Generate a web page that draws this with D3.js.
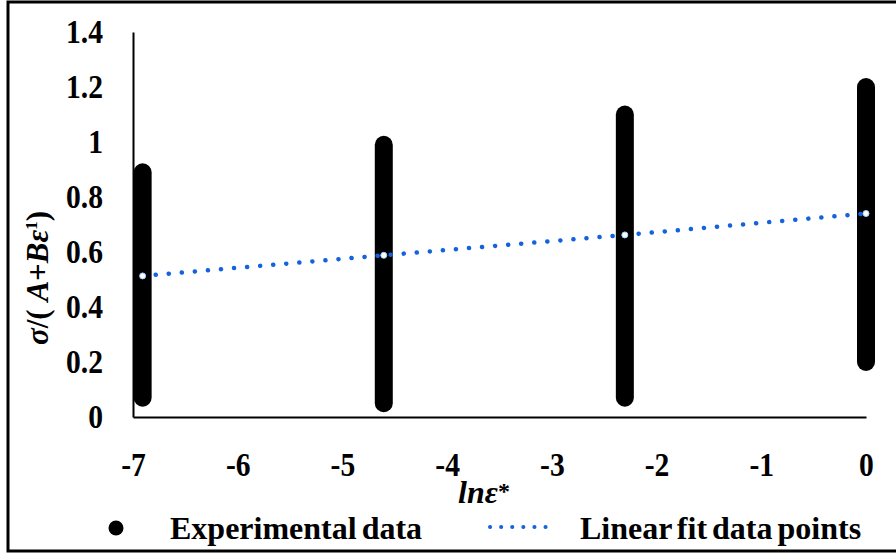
<!DOCTYPE html>
<html>
<head>
<meta charset="utf-8">
<script src="https://cdn.jsdelivr.net/npm/d3@7"></script>
<style>
  body { margin: 0; background: #fff; }
  text { font-family: "Liberation Serif", "Times New Roman", serif; font-weight: bold; fill: #000; }
</style>
</head>
<body>
<svg id="chart" width="896" height="554"></svg>
<script>
// ln of strain rate (0.001, 0.01, 0.1, 1)
var lnRates = [-6.908, -4.605, -2.303, 0];
// spread of the experimental points at each rate
var expMin = [0.07, 0.05, 0.07, 0.2];
var expMax = [0.89, 0.99, 1.1, 1.2];
// linear fit values at the same rates
var fitValues = [0.513, 0.588, 0.662, 0.74];

var xTicks = [-7, -6, -5, -4, -3, -2, -1, 0];
var yTicks = [0, 0.2, 0.4, 0.6, 0.8, 1, 1.2, 1.4];

var fitColor = "#1463dc";
var squeeze = 0.87; // tick labels look narrow/tall in the original

var svg = d3.select("#chart");

var x = d3.scaleLinear().domain([-7, 0]).range([133, 866]);
var y = d3.scaleLinear().domain([0, 1.4]).range([417, 32]);

// outer frame
svg.append("rect")
  .attr("x", 8).attr("y", 2)
  .attr("width", 900).attr("height", 549)
  .attr("fill", "none").attr("stroke", "#000").attr("stroke-width", 3);

// axes (no tick marks, just the lines and labels)
var yAxis = d3.axisLeft(y).tickValues(yTicks).tickSize(0).tickPadding(0)
  .tickFormat(function(d) { return d3.format("~g")(d); });
var xAxis = d3.axisBottom(x).tickValues(xTicks).tickSize(0).tickPadding(0)
  .tickFormat(function(d) { return String(d); });

var gy = svg.append("g").attr("transform", "translate(" + x(-7) + ",0)").call(yAxis);
var gx = svg.append("g").attr("transform", "translate(0," + y(0) + ")").call(xAxis);

[gx, gy].forEach(function(g) {
  g.select(".domain").attr("stroke", "#000").attr("stroke-width", 2);
  g.selectAll("text").style("font-size", "34px");
});
gx.selectAll("text")
  .attr("y", 0).attr("dy", "0.35em")
  .attr("transform", "translate(0,47) scale(" + squeeze + ",1)");
gy.selectAll("text")
  .attr("x", 0).attr("dx", 0)
  .attr("transform", "translate(-30,0) scale(" + squeeze + ",1)");

// experimental data: dense column of points at each rate
svg.append("g").selectAll("line")
  .data(lnRates)
  .enter()
  .append("line")
  .attr("x1", function(d) { return x(d); })
  .attr("x2", function(d) { return x(d); })
  .attr("y1", function(d, i) { return y(expMin[i]); })
  .attr("y2", function(d, i) { return y(expMax[i]); })
  .attr("stroke", "#000")
  .attr("stroke-width", 18)
  .attr("stroke-linecap", "round");

// linear fit, dotted
var fitLine = d3.line()
  .x(function(d, i) { return x(lnRates[i]); })
  .y(function(d) { return y(d); });

svg.append("path")
  .datum(fitValues)
  .attr("d", fitLine)
  .attr("fill", "none")
  .attr("stroke", fitColor)
  .attr("stroke-width", 4.5)
  .attr("stroke-linecap", "round")
  .attr("stroke-dasharray", "0.1 13");

svg.append("g").selectAll("circle")
  .data(fitValues)
  .enter()
  .append("circle")
  .attr("cx", function(d, i) { return x(lnRates[i]); })
  .attr("cy", function(d) { return y(d); })
  .attr("r", 3)
  .attr("fill", "#fff")
  .attr("stroke", "#9fd0ff")
  .attr("stroke-width", 1);

// axis titles
var yTitle = svg.append("text")
  .attr("transform", "translate(48,278) rotate(-90)")
  .attr("text-anchor", "middle")
  .style("font-size", "31px");
yTitle.append("tspan").style("font-style", "italic").text("σ");
yTitle.append("tspan").text("/( ");
yTitle.append("tspan").style("font-style", "italic").text("A");
yTitle.append("tspan").text("+");
yTitle.append("tspan").style("font-style", "italic").text("Bε");
yTitle.append("tspan").attr("dy", -11).style("font-size", "17px").text("1");
yTitle.append("tspan").attr("dy", 11).text(")");

var xTitle = svg.append("text")
  .attr("x", 484).attr("y", 503)
  .attr("text-anchor", "middle")
  .style("font-size", "32px")
  .style("font-style", "italic");
xTitle.append("tspan").text("lnε");
xTitle.append("tspan").attr("dy", -4).style("font-size", "24px").style("font-style", "normal").text("*");

// legend
var legend = svg.append("g");
legend.append("circle")
  .attr("cx", 116).attr("cy", 528).attr("r", 7.5)
  .attr("fill", "#000");
legend.append("text")
  .attr("x", 170).attr("y", 539)
  .style("font-size", "32px")
  .style("word-spacing", "-3px")
  .text("Experimental data");
legend.append("line")
  .attr("x1", 490).attr("x2", 556)
  .attr("y1", 527).attr("y2", 527)
  .attr("stroke", fitColor)
  .attr("stroke-width", 4)
  .attr("stroke-linecap", "round")
  .attr("stroke-dasharray", "0.1 11");
legend.append("text")
  .attr("x", 580).attr("y", 539)
  .style("font-size", "32px")
  .style("word-spacing", "-3px")
  .text("Linear fit data points");
</script>
</body>
</html>
